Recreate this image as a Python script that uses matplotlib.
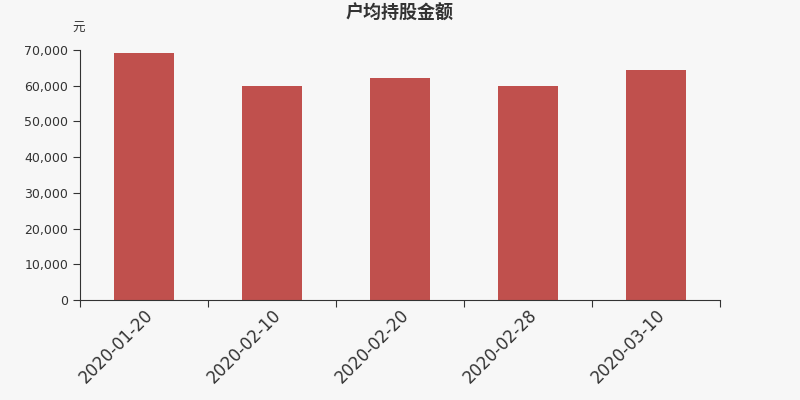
import numpy as np
import matplotlib
matplotlib.use('Agg')
import matplotlib.pyplot as plt
from matplotlib.ticker import FuncFormatter

plt.rcParams['font.family'] = ['DejaVu Sans', 'Noto Sans CJK SC']

dates = ['2020-01-20', '2020-02-10', '2020-02-20', '2020-02-28', '2020-03-10']
amounts = [69100, 60000, 62250, 59900, 64300]

bg = '#f7f7f7'
fig = plt.figure(figsize=(8, 4), dpi=100, facecolor=bg)
ax = fig.add_axes([0.1, 0.25, 0.8, 0.625], facecolor=bg)

x = np.arange(len(dates))
ax.bar(x, amounts, width=0.47, color='#c0504d')

ax.set_xlim(-0.5, len(dates) - 0.5)
ax.set_ylim(0, 70000)
ax.set_yticks(np.arange(0, 70001, 10000))
ax.yaxis.set_major_formatter(FuncFormatter(lambda v, p: f'{int(v):,}'))

# category boundaries as ticks, labels in the middle
ax.set_xticks(np.arange(-0.5, len(dates), 1.0))
ax.set_xticklabels([])
ax.set_xticks(x, minor=True)
ax.set_xticklabels(dates, minor=True, rotation=45, ha='right', rotation_mode='anchor',
                   fontsize=12, color='#333333')
ax.tick_params(axis='x', which='minor', length=0, pad=4)
ax.tick_params(axis='x', which='major', length=5, color='#333333')
ax.tick_params(axis='y', length=5, color='#333333', labelsize=9, labelcolor='#333333')

for s in ['top', 'right']:
    ax.spines[s].set_visible(False)
for s in ['left', 'bottom']:
    ax.spines[s].set_color('#333333')

fig.text(0.5, 0.967, '户均持股金额', ha='center', va='center', fontsize=13,
         fontweight='bold', color='#333333', family=['Noto Sans CJK SC'])
fig.text(0.098, 0.93, '元', ha='center', va='center', fontsize=9,
         color='#333333', family=['Noto Sans CJK SC'])

fig.savefig('out.png', dpi=100, facecolor=bg)
